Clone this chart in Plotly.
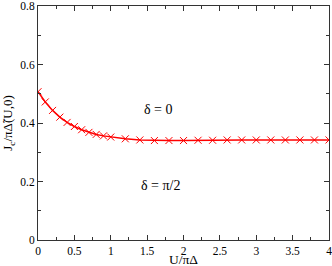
import plotly.graph_objects as go

u_vals = [0, 0.1, 0.2, 0.3, 0.4, 0.5, 0.6, 0.7, 0.8, 0.9, 1.0,
          1.2, 1.4, 1.6, 1.8, 2.0, 2.2, 2.4, 2.6, 2.8, 3.0, 3.2, 3.4, 3.6, 3.8, 4.0]
jc_vals = [0.507, 0.472, 0.443, 0.420, 0.402, 0.388, 0.377, 0.368, 0.361, 0.356, 0.352,
           0.346, 0.342, 0.340, 0.340, 0.340, 0.341, 0.341, 0.342, 0.342, 0.342, 0.342,
           0.342, 0.342, 0.342, 0.342]
x_ticks = [0, 0.5, 1, 1.5, 2, 2.5, 3, 3.5, 4]
x_labels = ["0", "0.5", "1", "1.5", "2", "2.5", "3", "3.5", "4"]
y_ticks = [0, 0.2, 0.4, 0.6, 0.8]
y_labels = ["0", "0.2", "0.4", "0.6", "0.8"]

font = "Liberation Serif"

fig = go.Figure()
fig.add_trace(go.Scatter(
    x=u_vals, y=jc_vals, mode="lines+markers",
    line=dict(color="#ff0000", width=1.5),
    marker=dict(symbol="x-thin", size=7, line=dict(color="#ff0000", width=1)),
    showlegend=False))

fig.add_annotation(x=1.65, y=0.445, text="δ = 0", showarrow=False,
                   font=dict(family=font, size=14, color="black"))
fig.add_annotation(x=1.68, y=0.185, text="δ = π/2", showarrow=False,
                   font=dict(family=font, size=14, color="black"))
# x-axis title
fig.add_annotation(x=0.5, y=-0.083, xref="paper", yref="paper", text="U/πΔ",
                   showarrow=False, yanchor="middle",
                   font=dict(family=font, size=13.5, color="black"))

axis_common = dict(showline=True, linecolor="#333", linewidth=1, mirror="ticks",
                   ticks="inside", ticklen=5, tickcolor="#333", showgrid=False,
                   zeroline=False, ticklabeloverflow="allow",
                   tickfont=dict(family=font, size=11.5, color="black"))

fig.update_xaxes(range=[0, 4], tickvals=x_ticks, ticktext=x_labels,
                 minor=dict(ticks="inside", dtick=0.25, ticklen=3, tickcolor="#333"),
                 **axis_common)
fig.update_yaxes(range=[0, 0.8], tickvals=y_ticks, ticktext=y_labels,
                 minor=dict(ticks="inside", dtick=0.1, ticklen=3, tickcolor="#333"),
                 title=dict(text="J<sub>c</sub>/πΔ̃(U,0)", font=dict(family=font, size=13, color="black")),
                 **axis_common)

fig.update_layout(width=332, height=266, margin=dict(l=38, r=3, t=6, b=26, autoexpand=False),
                  font=dict(family=font, color="black"),
                  plot_bgcolor="white", paper_bgcolor="white")
fig.write_html("out.html", config={"displayModeBar": False},
               post_script="document.body.style.margin='0';document.body.style.overflow='hidden';")
